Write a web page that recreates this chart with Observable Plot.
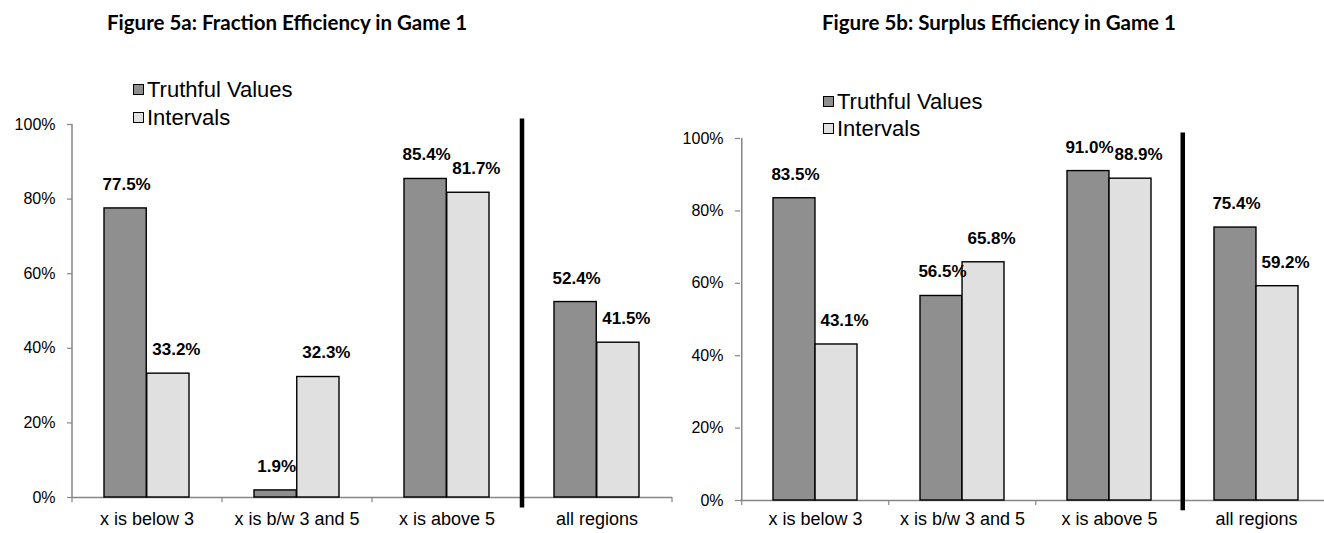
<!DOCTYPE html>
<html>
<head>
<meta charset="utf-8">
<script src="https://cdn.jsdelivr.net/npm/d3@7"></script>
<script src="https://cdn.jsdelivr.net/npm/@observablehq/plot@0.6"></script>
<style>
  body { margin: 0; background: #fff; }
  #wrap { position: relative; width: 1324px; height: 533px; overflow: hidden; background: #fff;
          font-family: "Liberation Sans", Arial, sans-serif; color: #000; }
  .title { position: absolute; top: 12px; font-family: Lato, "Open Sans", sans-serif; font-weight: 700;
           font-size: 20.5px; line-height: 20px; white-space: nowrap; }
  .legend { position: absolute; font-size: 22px; line-height: 27.5px; white-space: nowrap; }
  .legend .row { display: flex; align-items: center; height: 27.5px; }
  .legend .sw { width: 9px; height: 9px; border: 1px solid #000; margin-right: 3px; flex: none; }
  .chart { position: absolute; top: 50px; }
</style>
</head>
<body>
<div id="wrap"></div>
<script>
// ---- data ----
const categories = ["x is below 3", "x is b/w 3 and 5", "x is above 5", "all regions"];
const seriesNames = ["Truthful Values", "Intervals"];
const seriesColors = ["#8f8f8f", "#e0e0e0"];
const fractionTruthful = [0.775, 0.019, 0.854, 0.524];
const fractionIntervals = [0.332, 0.323, 0.817, 0.415];
const surplusTruthful = [0.835, 0.565, 0.910, 0.754];
const surplusIntervals = [0.431, 0.658, 0.889, 0.592];
const yTicks = [0, 0.2, 0.4, 0.6, 0.8, 1.0];
const titles = ["Figure 5a: Fraction Efficiency in Game 1", "Figure 5b: Surplus Efficiency in Game 1"];

const wrap = document.getElementById("wrap");
const axisGray = "#868686";

function makeChart(truthful, intervals, layout) {
  const {left, width, height, marginLeft, marginRight, marginTop, marginBottom, labelPad} = layout;
  const rows = categories.flatMap((c, i) => [
    {category: c, series: seriesNames[0], value: truthful[i]},
    {category: c, series: seriesNames[1], value: intervals[i]}
  ]);
  const tRows = rows.filter(d => d.series === seriesNames[0]);
  const iRows = rows.filter(d => d.series === seriesNames[1]);
  const step = (width - marginLeft - marginRight) / categories.length;
  const bandFrac = 0.57;            // bandwidth / step
  const pInner = 1 - bandFrac;
  const bw = step * bandFrac;
  const pct = d3.format(".1%");
  const svg = Plot.plot({
    width, height, marginLeft, marginRight, marginTop, marginBottom,
    style: {overflow: "visible", background: "transparent", color: "black",
            fontFamily: "'Liberation Sans', Arial, sans-serif", fontSize: "16px"},
    x: {domain: categories, paddingInner: pInner, paddingOuter: pInner / 2, align: 0.5, axis: null},
    y: {domain: [0, 1], axis: null},
    color: {domain: seriesNames, range: seriesColors},
    marks: [
      // y axis
      Plot.axisY({ticks: yTicks, tickFormat: d3.format(".0%"), tickSize: 5, tickPadding: 12,
                  stroke: axisGray, strokeWidth: 1.2, fill: "black", fontSize: 16, label: null}),
      Plot.ruleX([categories[0]], {x: d => d, dx: -step / 2, y1: 0, y2: 1, stroke: axisGray, strokeWidth: 1.5}),
      // x axis
      Plot.axisX({tickSize: 0, tickPadding: labelPad, fill: "black", fontSize: 18, label: null}),
      Plot.ruleY([0], {stroke: axisGray, strokeWidth: 1.5}),
      Plot.ruleX(categories, {x: d => d, dx: -step / 2, y1: 0, y2: -0.014, stroke: axisGray, strokeWidth: 1.2}),
      Plot.ruleX([categories[categories.length - 1]], {x: d => d, dx: step / 2, y1: 0, y2: -0.014, stroke: axisGray, strokeWidth: 1.2}),
      // bars
      Plot.barY(tRows, {x: "category", y: "value", fill: "series", stroke: "black", strokeWidth: 1.4, insetRight: bw / 2}),
      Plot.barY(iRows, {x: "category", y: "value", fill: "series", stroke: "black", strokeWidth: 1.4, insetLeft: bw / 2}),
      // divider
      Plot.ruleX([categories[3]], {x: d => d, dx: -step / 2, y1: -0.028, y2: 1.015, stroke: "black", strokeWidth: 4.5}),
      // value labels
      Plot.text(tRows, {x: "category", y: "value", text: d => pct(d.value), dx: -bw / 4 + 1, dy: -24,
                        fontWeight: "bold", fontSize: 17, fill: "black"}),
      Plot.text(iRows, {x: "category", y: "value", text: d => pct(d.value), dx: bw / 4 + 8, dy: -24,
                        fontWeight: "bold", fontSize: 17, fill: "black"})
    ]
  });
  svg.classList.add("chart");
  svg.style.left = left + "px";
  svg.style.position = "absolute";
  svg.style.top = "50px";
  svg.style.maxWidth = "none";
  wrap.appendChild(svg);
}

function addTitle(text, left) {
  const t = document.createElement("div");
  t.className = "title";
  t.style.left = left + "px";
  t.textContent = text;
  wrap.appendChild(t);
}

function addLegend(left, top) {
  const lg = document.createElement("div");
  lg.className = "legend";
  lg.style.left = left + "px";
  lg.style.top = top + "px";
  seriesNames.forEach((name, i) => {
    const row = document.createElement("div");
    row.className = "row";
    const sw = document.createElement("div");
    sw.className = "sw";
    sw.style.background = seriesColors[i];
    const label = document.createElement("span");
    label.textContent = name;
    row.appendChild(sw);
    row.appendChild(label);
    lg.appendChild(row);
  });
  wrap.appendChild(lg);
}

makeChart(fractionTruthful, fractionIntervals,
  {left: 0, width: 662, height: 483, marginLeft: 72, marginRight: -10, marginTop: 74, marginBottom: 36, labelPad: 15});
makeChart(surplusTruthful, surplusIntervals,
  {left: 662, width: 662, height: 483, marginLeft: 78, marginRight: -6, marginTop: 88, marginBottom: 33, labelPad: 12});

addTitle(titles[0], 107);
addTitle(titles[1], 822);
addLegend(133, 76);
addLegend(823, 87.5);
</script>
</body>
</html>
